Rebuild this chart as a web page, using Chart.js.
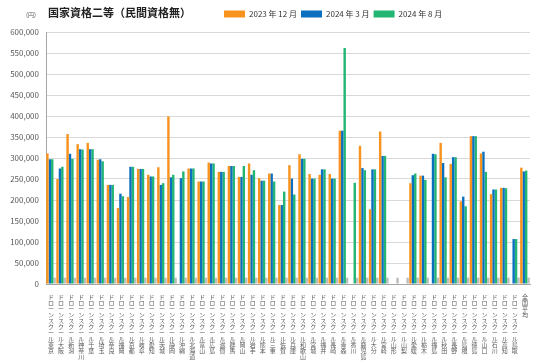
<!DOCTYPE html>
<html>
<head>
<meta charset="utf-8">
<script src="https://cdn.jsdelivr.net/npm/chart.js@4"></script>
<style>
  html, body { margin: 0; padding: 0; background: #fff; }
  #wrap { width: 536px; height: 363px; }
</style>
</head>
<body>
<div id="wrap"><canvas id="shikakuChart"></canvas></div>
<script>
// data (円)
var prefs = ['東京', '大阪', '新潟', '神奈川', '千葉', '埼玉', '奈良', '福岡', '京都', '岐阜', '愛知', '茨城', '静岡', '沖縄', '北海道', '富山',
  '広島', '滋賀', '群馬', '岡山', '岩手', '熊本', '三重', '佐賀', '兵庫', '和歌山', '宮城', '福井', '長崎', '青森', '香川', '鹿児島',
  '大分', '宮崎', '山形', '山梨', '愛媛', '栃木', '福島', '秋田', '長野', '島根', '徳島', '山口', '石川', '高知', '鳥取', '全国平均'];

var dec2023 = [311000, 250000, 357000, 333000, 336000, 296000, 236000, 181000, 207000, 274000, 260000, 278000, 399000, null, 275000, 244000,
  289000, 267000, 281000, 255000, 287000, 252000, 263000, 188000, 283000, 309000, 262000, 260000, 262000, 365000, null, 329000,
  178000, 363000, null, null, 240000, 258000, null, 336000, 286000, 197000, 352000, 311000, 214000, 229000, null, 277000];

var mar2024 = [297000, 275000, 310000, 321000, 321000, 297000, 236000, 215000, 279000, 274000, 256000, 236000, 254000, 252000, 275000, 244000,
  287000, 267000, 281000, 255000, 260000, 246000, 263000, 188000, 251000, 298000, 251000, 273000, 251000, 365000, null, 276000,
  273000, 305000, null, null, 259000, 258000, 310000, 288000, 302000, 208000, 352000, 315000, 225000, 229000, 107000, 268000];

var aug2024 = [297000, 279000, 298000, 320000, 321000, 292000, 236000, 209000, 279000, 274000, 256000, 240000, 260000, 268000, 275000, 244000,
  287000, 267000, 281000, 281000, 271000, 246000, 244000, 220000, 213000, 298000, 251000, 273000, 251000, 562000, 241000, 271000,
  273000, 305000, null, null, 263000, 248000, 309000, 254000, 302000, 185000, 352000, 267000, 225000, 228000, 107000, 270000];

// small grey stub at the end of every group
var stub = [15000, 15000, 15000, 15000, 15000, 15000, 15000, 15000, 15000, 15000, 15000, 15000, 15000, 15000, 15000, 15000,
  15000, 15000, 15000, 15000, 15000, 15000, 15000, 15000, 15000, 15000, 15000, 15000, 15000, 15000, 15000, 15000,
  15000, 15000, 15000, 15000, 15000, 15000, 15000, 15000, 15000, 15000, 15000, 15000, 15000, 15000, 15000, 15000];

var seriesNames = ['2023 年 12 月', '2024 年 3 月', '2024 年 8 月'];

// vertical labels: one character per line
var labels = prefs.map(function (p) {
  var s = p === '全国平均' ? p : 'ドローンスクール' + p;
  return s.split('');
});

Chart.defaults.font.family = "'Noto Sans CJK JP', 'Noto Sans', sans-serif";
Chart.defaults.color = '#595959';

// title, unit and legend placement
var headerPlugin = {
  id: 'header',
  beforeDraw: function (chart) {
    chart.legend.left = 220;
    chart.legend.top = 6;
  },
  afterDraw: function (chart) {
    var ctx = chart.ctx;
    ctx.save();
    ctx.fillStyle = '#222';
    ctx.textBaseline = 'middle';
    ctx.font = "bold 11px 'Noto Sans CJK JP'";
    ctx.fillText('国家資格二等（民間資格無）', 48, 13);
    ctx.fillStyle = '#595959';
    ctx.font = "6px 'Noto Sans CJK JP'";
    ctx.fillText('(円)', 26, 15);
    ctx.restore();
  }
};

var ctx = document.getElementById('shikakuChart').getContext('2d');
var shikakuChart = new Chart(ctx, {
  type: 'bar',
  data: {
    labels: labels,
    datasets: [{
      label: seriesNames[0],
      data: dec2023,
      backgroundColor: '#F7931E'
    }, {
      label: seriesNames[1],
      data: mar2024,
      backgroundColor: '#0B6FBF'
    }, {
      label: seriesNames[2],
      data: aug2024,
      backgroundColor: '#22B573'
    }, {
      label: '',
      data: stub,
      backgroundColor: '#BDBDBD'
    }]
  },
  options: {
    responsive: true,
    maintainAspectRatio: false,
    animation: false,
    datasets: {
      bar: {
        categoryPercentage: 0.96,
        barPercentage: 1
      }
    },
    layout: {
      padding: { left: 10, right: 6, top: 10, bottom: 1 }
    },
    plugins: {
      legend: {
        position: 'top',
        align: 'start',
        labels: {
          boxWidth: 21,
          boxHeight: 7,
          padding: 4,
          color: '#333',
          font: { size: 8 },
          filter: function (item) { return item.datasetIndex < 3; }
        }
      },
      tooltip: {
        enabled: false
      }
    },
    scales: {
      x: {
        grid: {
          display: false
        },
        border: {
          color: '#A6A6A6'
        },
        ticks: {
          autoSkip: false,
          maxRotation: 0,
          minRotation: 0,
          padding: 2,
          font: { size: 6, lineHeight: 1.0 }
        }
      },
      y: {
        min: 0,
        max: 600000,
        afterFit: function (scale) { scale.width = 36; },
        grid: {
          color: '#D9D9D9',
          drawTicks: false
        },
        border: {
          color: '#A6A6A6'
        },
        ticks: {
          stepSize: 50000,
          padding: 7,
          font: { size: 8 }
        }
      }
    }
  },
  plugins: [headerPlugin]
});
</script>
</body>
</html>
